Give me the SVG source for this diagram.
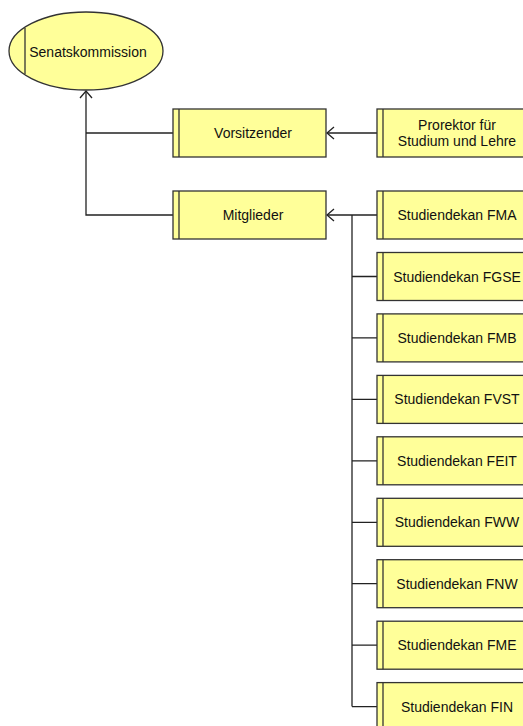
<svg xmlns="http://www.w3.org/2000/svg" width="523" height="726" viewBox="0 0 523 726">
<style>
.n{fill:#ffff99;stroke:#333;stroke-width:1.3}
.b{fill:none;stroke:#333;stroke-width:1.3}
.t{font-family:"Liberation Sans",Arial,sans-serif;font-size:14px;fill:#111;text-anchor:middle}
.c{fill:none;stroke:#222;stroke-width:1.3}
</style>
<defs>
<marker id="ar" markerWidth="12" markerHeight="14" refX="9" refY="7" orient="auto" markerUnits="userSpaceOnUse">
<path d="M2,1 L9,7 L2,13" fill="none" stroke="#222" stroke-width="1.3"/>
</marker>
</defs>
<rect width="523" height="726" fill="#fff"/>
<g id="connectors">
<path class="c" d="M173,215 H86 V91" marker-end="url(#ar)"/>
<path class="c" d="M173,133 H86"/>
<path class="c" d="M377,133 H327" marker-end="url(#ar)"/>
<path class="c" d="M377,215 H327" marker-end="url(#ar)"/>
<path class="c" d="M352,215 V706.6"/>
<path class="c" d="M352,276.5 H377 M352,337.9 H377 M352,399.4 H377 M352,460.8 H377 M352,522.3 H377 M352,583.7 H377 M352,645.2 H377 M352,706.6 H377"/>
</g>
<g id="senatskommission">
<ellipse class="n" cx="86" cy="51" rx="77" ry="39"/>
<line class="b" x1="25" y1="28" x2="25" y2="74"/>
<text class="t" x="88" y="57">Senatskommission</text>
</g>
<g id="vorsitzender">
<rect class="n" x="173" y="109" width="153" height="48"/>
<line class="b" x1="179" y1="109" x2="179" y2="157"/>
<text class="t" x="253" y="138">Vorsitzender</text>
</g>
<g id="mitglieder">
<rect class="n" x="173" y="191" width="153" height="48"/>
<line class="b" x1="179" y1="191" x2="179" y2="239"/>
<text class="t" x="253" y="220">Mitglieder</text>
</g>
<g id="prorektor">
<rect class="n" x="377" y="109" width="153" height="48"/>
<line class="b" x1="383" y1="109" x2="383" y2="157"/>
<text class="t" x="457" y="130">Prorektor für</text>
<text class="t" x="457" y="146">Studium und Lehre</text>
</g>
<g id="fma">
<rect class="n" x="377" y="191" width="153" height="48"/>
<line class="b" x1="383" y1="191" x2="383" y2="239"/>
<text class="t" x="457" y="220">Studiendekan FMA</text>
</g>
<g id="fgse">
<rect class="n" x="377" y="252.5" width="153" height="48"/>
<line class="b" x1="383" y1="252.5" x2="383" y2="300.5"/>
<text class="t" x="457" y="281.5">Studiendekan FGSE</text>
</g>
<g id="fmb">
<rect class="n" x="377" y="313.9" width="153" height="48"/>
<line class="b" x1="383" y1="313.9" x2="383" y2="361.9"/>
<text class="t" x="457" y="342.9">Studiendekan FMB</text>
</g>
<g id="fvst">
<rect class="n" x="377" y="375.4" width="153" height="48"/>
<line class="b" x1="383" y1="375.4" x2="383" y2="423.4"/>
<text class="t" x="457" y="404.4">Studiendekan FVST</text>
</g>
<g id="feit">
<rect class="n" x="377" y="436.8" width="153" height="48"/>
<line class="b" x1="383" y1="436.8" x2="383" y2="484.8"/>
<text class="t" x="457" y="465.8">Studiendekan FEIT</text>
</g>
<g id="fww">
<rect class="n" x="377" y="498.3" width="153" height="48"/>
<line class="b" x1="383" y1="498.3" x2="383" y2="546.3"/>
<text class="t" x="457" y="527.3">Studiendekan FWW</text>
</g>
<g id="fnw">
<rect class="n" x="377" y="559.7" width="153" height="48"/>
<line class="b" x1="383" y1="559.7" x2="383" y2="607.7"/>
<text class="t" x="457" y="588.7">Studiendekan FNW</text>
</g>
<g id="fme">
<rect class="n" x="377" y="621.2" width="153" height="48"/>
<line class="b" x1="383" y1="621.2" x2="383" y2="669.2"/>
<text class="t" x="457" y="650.2">Studiendekan FME</text>
</g>
<g id="fin">
<rect class="n" x="377" y="682.6" width="153" height="48"/>
<line class="b" x1="383" y1="682.6" x2="383" y2="730.6"/>
<text class="t" x="457" y="711.6">Studiendekan FIN</text>
</g>
</svg>
